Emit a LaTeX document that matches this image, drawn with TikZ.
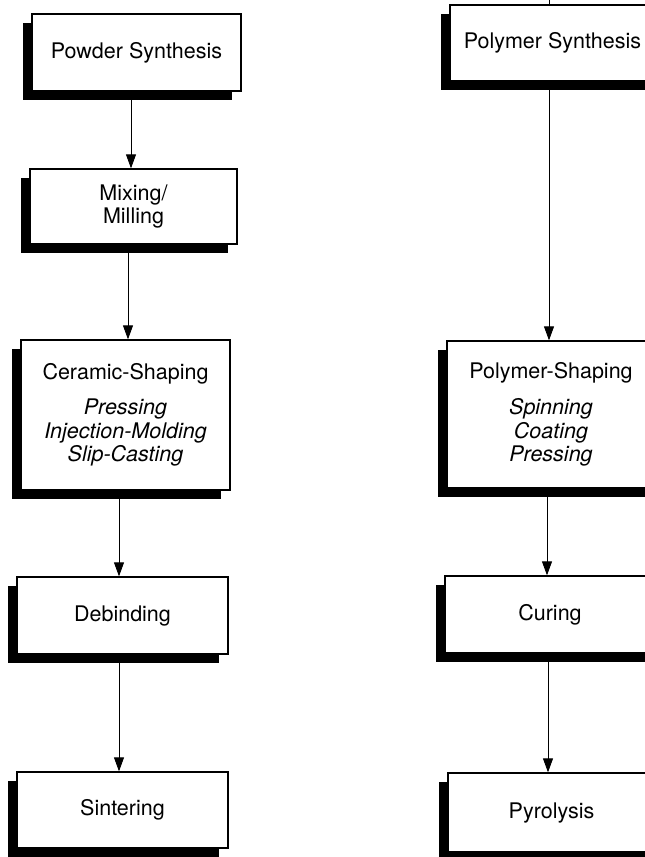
\documentclass[tikz,border=0pt]{standalone}
\usepackage{fontspec}
\setmainfont{TeX Gyre Heros}
\usetikzlibrary{arrows.meta,shadows}
\begin{document}
\begin{tikzpicture}[x=1pt,y=-1pt,
  box/.style={draw=black,line width=1.3pt,fill=white,inner sep=0pt,align=center,
    font=\fontsize{21.5}{23.5}\selectfont,
    drop shadow={shadow xshift=-9pt,shadow yshift=-9pt,fill=black,opacity=1}},
  arr/.style={draw=black,line width=0.9pt,-{Triangle[length=14pt,width=10pt]}}]
\useasboundingbox[fill=white] (0,0) rectangle (645,857);
% left column
\node[box,minimum width=209pt,minimum height=77pt] (pw) at (136.5,52.5) {Powder Synthesis};
\node[box,minimum width=207pt,minimum height=75pt] (mx) at (133.5,206.5) {Mixing/\\Milling};
\node[box,minimum width=209pt,minimum height=150pt] (cs) at (125.5,415) {Ceramic-Shaping\\[12pt]\itshape Pressing\\\itshape Injection-Molding\\\itshape Slip-Casting};
\node[box,minimum width=211pt,minimum height=77pt] (db) at (122.5,615.5) {Debinding};
\node[box,minimum width=211pt,minimum height=76pt] (si) at (122.5,810) {Sintering};
% right column
\node[box,minimum width=205pt,minimum height=76pt] (psy) at (552.5,43) {Polymer Synthesis};
\node[box,minimum width=208pt,minimum height=147pt] (psh) at (551,414.5) {Polymer-Shaping\\[13pt]\itshape Spinning\\\itshape Coating\\\itshape Pressing};
\node[box,minimum width=210pt,minimum height=77pt] (cu) at (550,614.5) {Curing};
\node[box,minimum width=207pt,minimum height=79pt] (py) at (551.5,812.5) {Pyrolysis};
% arrow x positions
\coordinate (xa) at (131,0);
\coordinate (xb) at (128,0);
\coordinate (xc) at (119,0);
\coordinate (xd) at (549,0);
\coordinate (xe) at (547,0);
\coordinate (xf) at (548,0);
\coordinate (top) at (549,0);
\draw[line width=0.9pt] (top) -- (top |- psy.north);
\draw[arr] (pw.south -| xa) -- (mx.north -| xa);
\draw[arr] (mx.south -| xb) -- (cs.north -| xb);
\draw[arr] (cs.south -| xc) -- (db.north -| xc);
\draw[arr] (db.south -| xc) -- (si.north -| xc);
\draw[arr] (psy.south -| xd) -- (psh.north -| xd);
\draw[arr] (psh.south -| xe) -- (cu.north -| xe);
\draw[arr] (cu.south -| xf) -- (py.north -| xf);
\end{tikzpicture}
\end{document}
